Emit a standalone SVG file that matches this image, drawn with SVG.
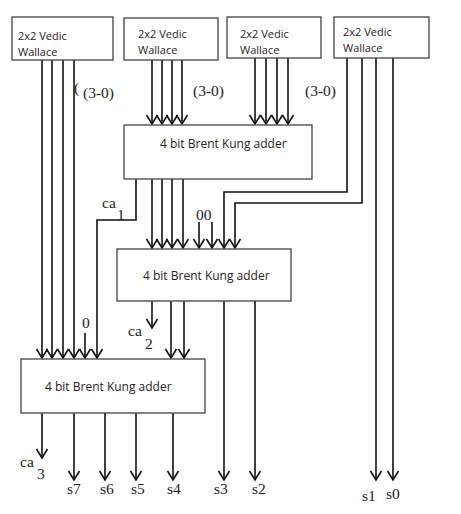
<svg xmlns="http://www.w3.org/2000/svg" width="461" height="514" viewBox="0 0 461 514">
<defs>
<marker id="ah" viewBox="0 0 12 14" refX="10" refY="7" markerWidth="12" markerHeight="14" markerUnits="userSpaceOnUse" orient="auto">
<path d="M1,1.5 L10,7 L1,12.5" fill="none" stroke="#111" stroke-width="1.6"/>
</marker>
<style>
.box{fill:#fff;stroke:#444;stroke-width:1.3}
.bt{font-family:"Open Sans","Liberation Sans",sans-serif;font-size:11px;fill:#2a2020}
.ad{font-family:"Open Sans","Liberation Sans",sans-serif;font-size:12px;fill:#2a2020}
.lb{font-family:"Liberation Serif",serif;font-size:15.5px;fill:#222}
.a{fill:none;stroke:#111;stroke-width:1.6;marker-end:url(#ah)}
</style>
</defs>
<rect width="461" height="514" fill="#fff"/>
<g id="connectors">
<path class="a" d="M42,60 V358"/>
<path class="a" d="M52,60 V358"/>
<path class="a" d="M63,60 V358"/>
<path class="a" d="M74,60 V358"/>
<path class="a" d="M152,60 V124"/>
<path class="a" d="M162,60 V124"/>
<path class="a" d="M172,60 V124"/>
<path class="a" d="M182,60 V124"/>
<path class="a" d="M255,58 V124"/>
<path class="a" d="M266,58 V124"/>
<path class="a" d="M277,58 V124"/>
<path class="a" d="M288,58 V124"/>
<path class="a" d="M347,58 V192 H224 V248"/>
<path class="a" d="M362,58 V203 H235 V248"/>
<path class="a" d="M376,58 V480"/>
<path class="a" d="M393,58 V480"/>
<path class="a" d="M136,179 V220 H97 V358"/>
<path class="a" d="M152,179 V248"/>
<path class="a" d="M162,179 V248"/>
<path class="a" d="M172,179 V248"/>
<path class="a" d="M183,179 V248"/>
<path class="a" d="M199,222 V248"/>
<path class="a" d="M212,222 V248"/>
<path class="a" d="M152,301 V328"/>
<path class="a" d="M171,301 V358"/>
<path class="a" d="M184,301 V358"/>
<path class="a" d="M224,301 V480"/>
<path class="a" d="M255,301 V480"/>
<path class="a" d="M85,333 V358"/>
<path class="a" d="M42,413 V458"/>
<path class="a" d="M74,413 V480"/>
<path class="a" d="M105,413 V480"/>
<path class="a" d="M136,413 V480"/>
<path class="a" d="M173,413 V480"/>
</g>
<g id="vw1"><rect class="box" x="12" y="17" width="101" height="43"/><text class="bt" x="18" y="40">2x2 Vedic</text><text class="bt" x="18" y="56">Wallace</text></g>
<g id="vw2"><rect class="box" x="124" y="18" width="94" height="42"/><text class="bt" x="138" y="38">2x2 Vedic</text><text class="bt" x="138" y="54">Wallace</text></g>
<g id="vw3"><rect class="box" x="227" y="17" width="94" height="41"/><text class="bt" x="240" y="38">2x2 Vedic</text><text class="bt" x="240" y="54">Wallace</text></g>
<g id="vw4"><rect class="box" x="334" y="17" width="95" height="41"/><text class="bt" x="343" y="36">2x2 Vedic</text><text class="bt" x="343" y="52">Wallace</text></g>
<g id="bk1"><rect class="box" x="124" y="125" width="188" height="54"/><text class="ad" x="160" y="148">4 bit Brent Kung adder</text></g>
<g id="bk2"><rect class="box" x="117" y="249" width="174" height="52"/><text class="ad" x="143" y="280">4 bit Brent Kung adder</text></g>
<g id="bk3"><rect class="box" x="21" y="359" width="184" height="54"/><text class="ad" x="45" y="391">4 bit Brent Kung adder</text></g>
<g id="labels">
<text class="lb" x="74" y="93" font-size="12">(</text>
<text class="lb" x="83" y="98">(3-0)</text>
<text class="lb" x="193" y="96">(3-0)</text>
<text class="lb" x="305" y="96">(3-0)</text>
<text class="lb" x="196" y="220">00</text>
<text class="lb" x="102" y="208">ca</text><text class="lb" x="117" y="220">1</text>
<text class="lb" x="82" y="328">0</text>
<text class="lb" x="128" y="336">ca</text><text class="lb" x="145" y="349">2</text>
<text class="lb" x="20" y="467">ca</text><text class="lb" x="37" y="479">3</text>
<text class="lb" x="67" y="494">s7</text>
<text class="lb" x="100" y="494">s6</text>
<text class="lb" x="131" y="494">s5</text>
<text class="lb" x="167" y="494">s4</text>
<text class="lb" x="214" y="494">s3</text>
<text class="lb" x="252" y="494">s2</text>
<text class="lb" x="362" y="501">s1</text>
<text class="lb" x="386" y="499">s0</text>
</g>
</svg>
